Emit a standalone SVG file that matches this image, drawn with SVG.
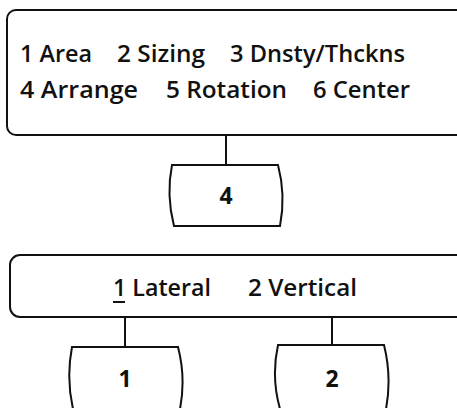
<svg xmlns="http://www.w3.org/2000/svg" width="457" height="408" viewBox="0 0 457 408">
<style>
.box{fill:#fff;stroke:#111;stroke-width:2}
.ln{stroke:#111;stroke-width:2;fill:none}
text{font-family:"Open Sans","Noto Sans",sans-serif;font-size:23px;font-weight:600;fill:#111}
.c{text-anchor:middle;font-weight:700;font-size:23px}
</style>
<rect width="457" height="408" fill="#fff"/>
<g id="connectors">
<line class="ln" x1="226" y1="135" x2="226" y2="165"/>
<line class="ln" x1="125" y1="317" x2="125" y2="347"/>
<line class="ln" x1="332" y1="317" x2="332" y2="345"/>
</g>
<g id="menu1">
<rect class="box" x="7" y="10" width="460" height="125" rx="9"/>
<text x="20" y="62" textLength="72" lengthAdjust="spacingAndGlyphs">1 Area</text>
<text x="117" y="62" textLength="88" lengthAdjust="spacingAndGlyphs">2 Sizing</text>
<text x="230" y="62" textLength="175" lengthAdjust="spacingAndGlyphs">3 Dnsty/Thckns</text>
<text x="20" y="98" textLength="118" lengthAdjust="spacingAndGlyphs">4 Arrange</text>
<text x="166" y="98" textLength="121" lengthAdjust="spacingAndGlyphs">5 Rotation</text>
<text x="313" y="98" textLength="97" lengthAdjust="spacingAndGlyphs">6 Center</text>
</g>
<g id="key4">
<path class="box" d="M172,165 H278 Q286,195 280,226 H174 Q166,195 172,165 Z"/>
<text class="c" x="226" y="204">4</text>
</g>
<g id="menu2">
<rect class="box" x="10" y="255" width="460" height="62" rx="10"/>
<text x="113" y="296" textLength="98" lengthAdjust="spacingAndGlyphs">1 Lateral</text>
<line class="ln" x1="113" y1="302" x2="125" y2="302"/>
<text x="248" y="296" textLength="109" lengthAdjust="spacingAndGlyphs">2 Vertical</text>
</g>
<g id="key1">
<path class="box" d="M72,347 H178 Q186,378 180,409 H73 Q66,378 72,347 Z"/>
<text class="c" x="125" y="387">1</text>
</g>
<g id="key2">
<path class="box" d="M278,345 H384 Q392,377 386,409 H280 Q271,377 278,345 Z"/>
<text class="c" x="332" y="387">2</text>
</g>
</svg>
